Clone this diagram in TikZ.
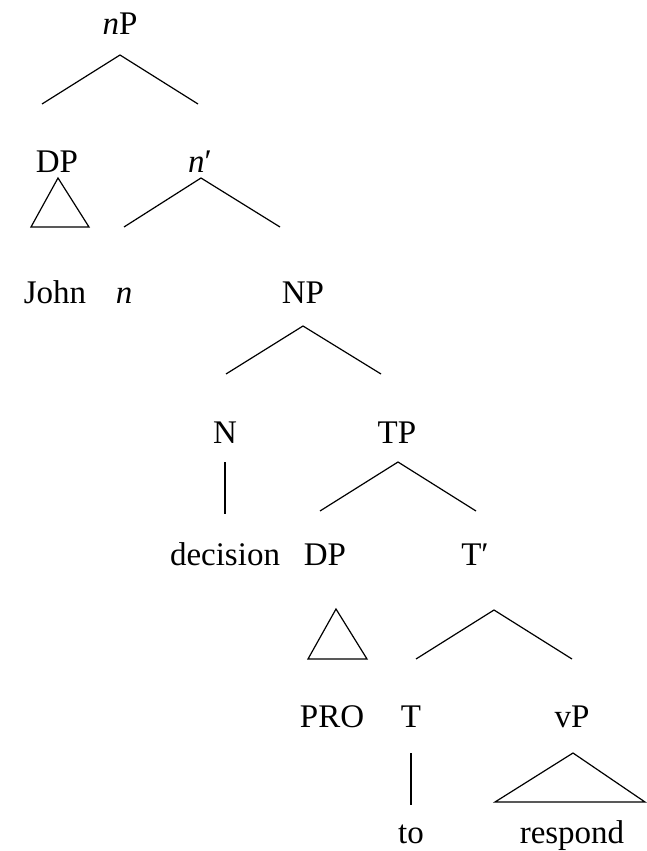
\documentclass[tikz,border=0pt]{standalone}
\usepackage{fontspec}
\setmainfont{Liberation Serif}
\tikzstyle{every node}=[anchor=base, inner sep=0pt, font=\fontsize{33}{40}\selectfont]
\tikzstyle{branch}=[line width=1.2pt]

\begin{document}
\begin{tikzpicture}[x=1pt, y=-1pt]
\useasboundingbox (0,0) rectangle (646,851);
% Labels
    \node (nP) at (120,35) {\textit{n}P};
    \node (DPa) at (57,172) {DP};
    \node (nbar) at (200,172) {\textit{n}′};
    \node (John) at (55,303) {John};
    \node (n) at (124,303) {\textit{n}};
    \node (NP) at (303,303) {NP};
    \node (N) at (225,443) {N};
    \node (TP) at (397,443) {TP};
    \node (decision) at (225,565) {decision};
    \node (DPb) at (325,565) {DP};
    \node (Tbar) at (475,565) {T′};
    \node (PRO) at (332,727) {PRO};
    \node (T) at (411,727) {T};
    \node (vP) at (572,727) {vP};
    \node (to) at (411,843) {to};
    \node (respond) at (572,843) {respond};
% Branch points
    \coordinate (nP-top) at (120,55);
    \coordinate (nP-l) at (42,104);
    \coordinate (nP-r) at (198,104);
    \coordinate (nbar-top) at (201,178);
    \coordinate (nbar-l) at (124,227);
    \coordinate (nbar-r) at (280,227);
    \coordinate (NP-top) at (303,326);
    \coordinate (NP-l) at (226,374);
    \coordinate (NP-r) at (381,374);
    \coordinate (N-top) at (225,462);
    \coordinate (N-bot) at (225,514);
    \coordinate (TP-top) at (398,462);
    \coordinate (TP-l) at (320,511);
    \coordinate (TP-r) at (476,511);
    \coordinate (Tbar-top) at (494,610);
    \coordinate (Tbar-l) at (416,659);
    \coordinate (Tbar-r) at (572,659);
    \coordinate (T-top) at (411,753);
    \coordinate (T-bot) at (411,805);
% Branches
    \draw[branch] (nP-l) -- (nP-top) -- (nP-r);
    \draw[branch] (nbar-l) -- (nbar-top) -- (nbar-r);
    \draw[branch] (NP-l) -- (NP-top) -- (NP-r);
    \draw[branch] (N-top) -- (N-bot);
    \draw[branch] (TP-l) -- (TP-top) -- (TP-r);
    \draw[branch] (Tbar-l) -- (Tbar-top) -- (Tbar-r);
    \draw[branch] (T-top) -- (T-bot);
% Triangles
    \draw[branch] (58,178) -- (31,227) -- (89,227) -- cycle;
    \draw[branch] (336,609) -- (308,659) -- (367,659) -- cycle;
    \draw[branch] (573,753) -- (495,802) -- (645,802) -- cycle;
\end{tikzpicture}
\end{document}
